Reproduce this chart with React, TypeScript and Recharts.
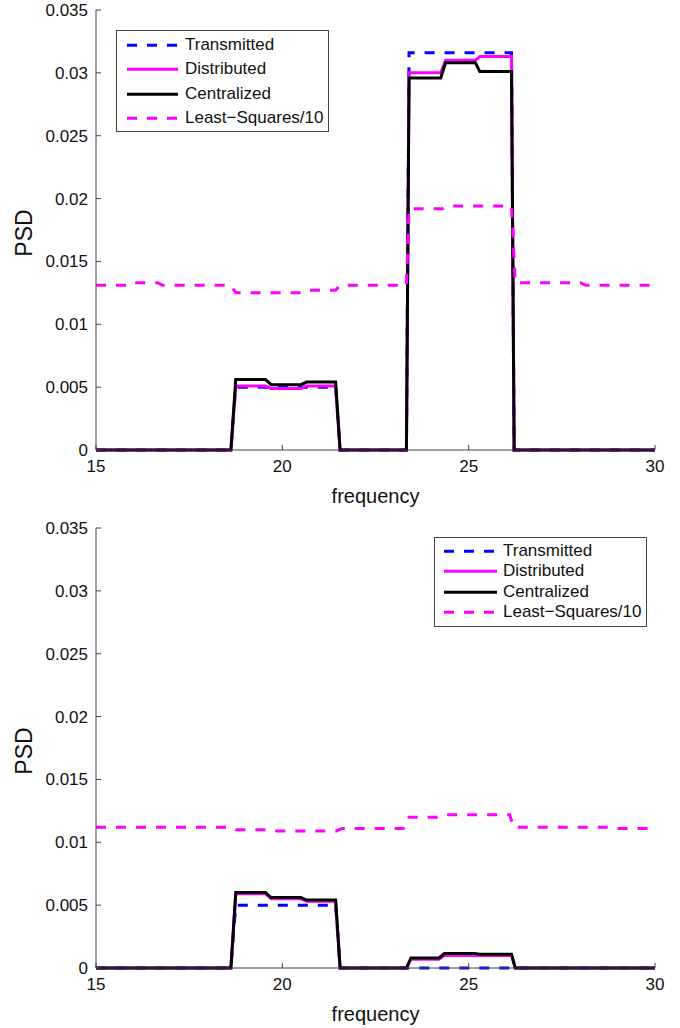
import React from 'react';
import { LineChart, Line, XAxis, YAxis, Legend } from 'recharts';

// ---- axes ----
const freqTicks = [15, 20, 25, 30];
const psdTicks = [0, 0.005, 0.01, 0.015, 0.02, 0.025, 0.03, 0.035];

// ---- series legend ----
const seriesNames = ['Transmitted', 'Distributed', 'Centralized', 'Least\u2212Squares/10'];
const seriesColors = ['#0000ff', '#ff00ff', '#000000', '#ff00ff'];
const seriesDashes = ['10 10', '', '', '10 10'];

// ---- upper panel ----
const freqA_T = [15, 18.62, 18.75, 21.43, 21.55, 23.33, 23.4, 26.15, 26.22, 30];
const psdA_T = [0, 0, 0.005, 0.005, 0, 0, 0.0316, 0.0316, 0, 0];

const freqA_DC = [15, 18.62, 18.75, 19.55, 19.7, 20.5, 20.65, 21.43, 21.55, 23.33, 23.4, 24.25, 24.38, 25.18, 25.3, 26.15, 26.22, 30];
const psdA_D = [0, 0, 0.0051, 0.0051, 0.0049, 0.0049, 0.0051, 0.0051, 0, 0, 0.03, 0.03, 0.031, 0.031, 0.0313, 0.0313, 0, 0];
const psdA_C = [0, 0, 0.0056, 0.0056, 0.0052, 0.0052, 0.0054, 0.0054, 0, 0, 0.0296, 0.0296, 0.0308, 0.0308, 0.0301, 0.0301, 0, 0];

const freqA_L = [15, 15.95, 16.05, 16.65, 16.8, 18.62, 18.75, 20.45, 20.6, 21.43, 21.55, 23.33, 23.4, 24.3, 24.45, 26.15, 26.25, 28.0, 28.15, 30];
const psdA_L = [0.0131, 0.0131, 0.0133, 0.0133, 0.0131, 0.0131, 0.0125, 0.0125, 0.0127, 0.0127, 0.0131, 0.0131, 0.0192, 0.0192, 0.0194, 0.0194, 0.0133, 0.0133, 0.0131, 0.0131];

// ---- lower panel ----
const freqB_T = [15, 18.62, 18.75, 21.43, 21.55, 30];
const psdB_T = [0, 0, 0.005, 0.005, 0, 0];

const freqB_DC = [15, 18.62, 18.75, 19.55, 19.7, 20.5, 20.65, 21.43, 21.55, 23.33, 23.45, 24.2, 24.35, 25.15, 25.3, 26.15, 26.25, 30];
const psdB_D = [0, 0, 0.0059, 0.0059, 0.0055, 0.0055, 0.0053, 0.0053, 0, 0, 0.0007, 0.0007, 0.001, 0.001, 0.001, 0.001, 0, 0];
const psdB_C = [0, 0, 0.006, 0.006, 0.0056, 0.0056, 0.0054, 0.0054, 0, 0, 0.0008, 0.0008, 0.00115, 0.00115, 0.0011, 0.0011, 0, 0];

const freqB_L = [15, 18.62, 18.75, 19.7, 19.85, 21.45, 21.6, 23.25, 23.4, 24.15, 24.3, 26.1, 26.2, 28.85, 29.0, 30];
const psdB_L = [0.0112, 0.0112, 0.011, 0.011, 0.0109, 0.0109, 0.0111, 0.0111, 0.012, 0.012, 0.0122, 0.0122, 0.0112, 0.0112, 0.0111, 0.0111];

const zip = (f: number[], v: number[]) => f.map((x, i) => ({ f: x, v: v[i] }));

const FONT = '"Liberation Sans", Arial, Helvetica, sans-serif';
const AXIS = '#444';
const TEXT = '#111';

// Ticks point inward, labels sit outside the box
const BottomTick = (p: any) => (
  <g>
    <line x1={p.x} y1={p.y} x2={p.x} y2={p.y - 5} stroke={AXIS} />
    <text x={p.x} y={p.y + 22} textAnchor="middle" fontSize={17} fontFamily={FONT} fill={TEXT}>
      {p.payload.value}
    </text>
  </g>
);
const TopTick = (p: any) => <line x1={p.x} y1={p.y} x2={p.x} y2={p.y + 5} stroke={AXIS} />;
const LeftTick = (p: any) => (
  <g>
    <line x1={p.x} y1={p.y} x2={p.x + 5} y2={p.y} stroke={AXIS} />
    <text x={p.x - 8} y={p.y + 6} textAnchor="end" fontSize={17} fontFamily={FONT} fill={TEXT}>
      {String(p.payload.value)}
    </text>
  </g>
);
const RightTick = (p: any) => <line x1={p.x} y1={p.y} x2={p.x - 5} y2={p.y} stroke={AXIS} />;

const XLabel = (p: any) => {
  const vb = p.viewBox || { x: 96, y: 450, width: 559 };
  return (
    <text x={vb.x + vb.width / 2} y={vb.y + 53} textAnchor="middle" fontSize={20} fontFamily={FONT} fill={TEXT}>
      frequency
    </text>
  );
};
const YLabel = (p: any) => {
  const vb = p.viewBox || { x: 0, y: 10, height: 440 };
  const cx = vb.x + 32;
  const cy = vb.y + vb.height / 2 + 3;
  return (
    <text x={cx} y={cy} transform={`rotate(-90 ${cx} ${cy})`} textAnchor="middle" fontSize={23} fontFamily={FONT} fill={TEXT}>
      PSD
    </text>
  );
};

type BoxSpec = { padTop: number; rowH: number; height: number; x0: number; x1: number; textX: number };

const LegendBox = ({ spec }: { spec: BoxSpec }) => (
  <div
    style={{
      width: 213,
      height: spec.height,
      boxSizing: 'border-box',
      border: `1px solid ${AXIS}`,
      background: '#fff',
      paddingTop: spec.padTop - 1,
      fontFamily: FONT,
      fontSize: 17,
      color: TEXT,
    }}
  >
    {seriesNames.map((name, i) => (
      <div key={name} style={{ position: 'relative', height: spec.rowH }}>
        <svg width={spec.textX} height={spec.rowH} style={{ position: 'absolute', left: -1, top: 0 }}>
          <line
            x1={spec.x0}
            x2={spec.x1}
            y1={spec.rowH / 2}
            y2={spec.rowH / 2}
            stroke={seriesColors[i]}
            strokeWidth={3}
            strokeDasharray={seriesDashes[i] || undefined}
          />
        </svg>
        <span
          style={{
            position: 'absolute',
            left: spec.textX - 1,
            top: 0,
            lineHeight: `${spec.rowH}px`,
            whiteSpace: 'nowrap',
          }}
        >
          {name}
        </span>
      </div>
    ))}
  </div>
);

type PanelProps = {
  top: number;
  legendLeft: number;
  legendTop: number;
  spec: BoxSpec;
  series: { f: number; v: number }[][];
};

const Panel = ({ top, legendLeft, legendTop, spec, series }: PanelProps) => (
  <div style={{ position: 'absolute', left: 0, top }}>
    <LineChart width={680} height={510} margin={{ top: 10, right: 25, bottom: 0, left: 0 }}>
      <XAxis
        type="number"
        dataKey="f"
        domain={[15, 30]}
        ticks={freqTicks}
        height={60}
        tickSize={0}
        tickMargin={0}
        tick={<BottomTick />}
        axisLine={{ stroke: AXIS }}
        label={<XLabel />}
      />
      <XAxis
        xAxisId="top"
        orientation="top"
        type="number"
        dataKey="f"
        domain={[15, 30]}
        ticks={freqTicks}
        height={0}
        tickSize={0}
        tickMargin={0}
        tick={<TopTick />}
        axisLine={{ stroke: AXIS }}
      />
      <YAxis
        type="number"
        dataKey="v"
        domain={[0, 0.035]}
        ticks={psdTicks}
        width={96}
        tickSize={0}
        tickMargin={0}
        tick={<LeftTick />}
        axisLine={{ stroke: AXIS }}
        label={<YLabel />}
      />
      <YAxis
        yAxisId="right"
        orientation="right"
        type="number"
        domain={[0, 0.035]}
        ticks={psdTicks}
        width={0}
        tickSize={0}
        tickMargin={0}
        tick={<RightTick />}
        axisLine={{ stroke: AXIS }}
      />
      {series.map((d, i) => (
        <Line
          key={seriesNames[i]}
          name={seriesNames[i]}
          data={d}
          dataKey="v"
          type="linear"
          stroke={seriesColors[i]}
          strokeWidth={3}
          strokeDasharray={seriesDashes[i] || undefined}
          dot={false}
          activeDot={false}
          isAnimationActive={false}
        />
      ))}
      <Legend
        layout="vertical"
        align="center"
        verticalAlign="middle"
        wrapperStyle={{ left: legendLeft, top: legendTop, width: 213 }}
        content={() => <LegendBox spec={spec} />}
      />
    </LineChart>
  </div>
);

const upperSeries = [zip(freqA_T, psdA_T), zip(freqA_DC, psdA_D), zip(freqA_DC, psdA_C), zip(freqA_L, psdA_L)];
const lowerSeries = [zip(freqB_T, psdB_T), zip(freqB_DC, psdB_D), zip(freqB_DC, psdB_C), zip(freqB_L, psdB_L)];

export default function App() {
  return (
    <div style={{ position: 'absolute', left: 0, top: 0, width: 680, height: 1028, background: '#fff', fontFamily: FONT }}>
      <Panel
        top={0}
        legendLeft={116}
        legendTop={30}
        spec={{ padTop: 3, rowH: 24.3, height: 102, x0: 11, x1: 62, textX: 69 }}
        series={upperSeries}
      />
      <Panel
        top={518}
        legendLeft={434}
        legendTop={19}
        spec={{ padTop: 3.5, rowH: 20.6, height: 90, x0: 10, x1: 63, textX: 69 }}
        series={lowerSeries}
      />
    </div>
  );
}
